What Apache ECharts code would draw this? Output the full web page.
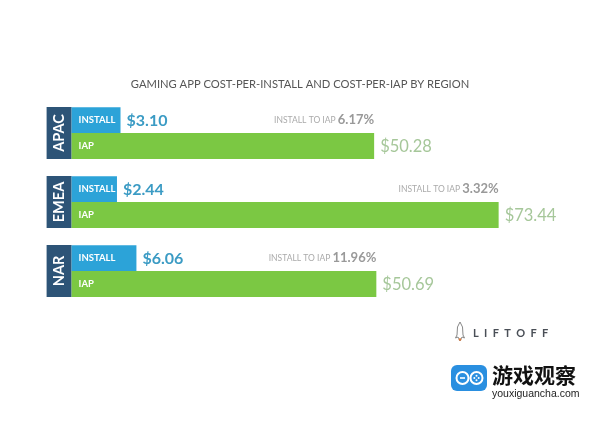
<!DOCTYPE html>
<html><head><meta charset="utf-8">
<script src="https://cdn.jsdelivr.net/npm/echarts@6/dist/echarts.min.js"></script>
<style>html,body{margin:0;padding:0;background:#fff}#c{width:600px;height:424px}</style>
</head><body><div id="c"></div>
<script>
const regions = ['APAC', 'EMEA', 'NAR'];
const installCost = [3.10, 2.44, 6.06];
const iapCost = [50.28, 73.44, 50.69];
const installToIap = [6.17, 3.32, 11.96];

const X_MIN = -6, X_MAX = 80;
const FONT = 'Lato, "Open Sans", sans-serif';

const chart = echarts.init(document.getElementById('c'), null, {renderer: 'canvas'});

function rowGeom(api, v, c) {
  const end = api.coord([v, c]);
  const start = api.coord([X_MIN, c]);
  const band = api.size([0, 1])[1];
  const h = band * 0.375;
  return {x0: start[0], x1: end[0], cy: end[1], h: h};
}

const option = {
  backgroundColor: '#ffffff',
  animation: false,
  title: {
    text: 'GAMING APP COST-PER-INSTALL AND COST-PER-IAP BY REGION',
    left: 'center', top: 74,
    textStyle: {fontFamily: FONT, fontSize: 11.2, fontWeight: 'normal', color: '#555'}
  },
  grid: {left: 71.6, right: 66.1, top: 98.5, bottom: 118.5},
  xAxis: {type: 'value', min: X_MIN, max: X_MAX, show: false},
  yAxis: {
    type: 'category', data: regions, inverse: true,
    axisLine: {show: false}, axisTick: {show: false}, splitLine: {show: false},
    axisLabel: {
      rotate: 90, margin: 0, color: '#fff', fontFamily: FONT, fontWeight: 'bold', fontSize: 14.5,
      backgroundColor: '#2d5477', width: 52, height: 25, lineHeight: 25, align: 'center'
    }
  },
  series: [
    {
      type: 'custom', name: 'Install',
      data: regions.map((r, i) => [installCost[i], i]),
      encode: {x: 0, y: 1},
      renderItem: function (params, api) {
        const g = rowGeom(api, api.value(0), api.value(1));
        const top = g.cy - g.h;
        return {type: 'group', children: [
          {type: 'rect', shape: {x: g.x0, y: top, width: g.x1 - g.x0, height: g.h}, style: {fill: '#2ca3d8'}},
          {type: 'text', style: {x: g.x0 + 7, y: top + g.h / 2, text: 'INSTALL', fill: '#fff',
            font: 'bold 9.5px ' + FONT, verticalAlign: 'middle', align: 'left'}},
          {type: 'text', style: {x: g.x1 + 6, y: top + g.h / 2 + 1, text: '$' + installCost[params.dataIndex].toFixed(2),
            fill: '#3b9bc4', font: 'bold 16px ' + FONT, verticalAlign: 'middle', align: 'left'}}
        ]};
      }
    },
    {
      type: 'custom', name: 'IAP',
      data: regions.map((r, i) => [iapCost[i], i]),
      encode: {x: 0, y: 1},
      renderItem: function (params, api) {
        const g = rowGeom(api, api.value(0), api.value(1));
        const top = g.cy;
        const i = params.dataIndex;
        return {type: 'group', children: [
          {type: 'rect', shape: {x: g.x0, y: top, width: g.x1 - g.x0, height: g.h}, style: {fill: '#7bc843'}},
          {type: 'text', style: {x: g.x0 + 7, y: top + g.h / 2, text: 'IAP', fill: '#fff',
            font: 'bold 9.5px ' + FONT, verticalAlign: 'middle', align: 'left'}},
          {type: 'text', style: {x: g.x1 + 6, y: top + g.h / 2 + 1, text: '$' + iapCost[i].toFixed(2),
            fill: '#a6c79a', font: '16.5px ' + FONT, verticalAlign: 'middle', align: 'left'}},
          {type: 'text', style: {x: g.x1, y: g.cy - g.h / 2, text: '{a|INSTALL TO IAP }{b|' + installToIap[i].toFixed(2) + '%}',
            align: 'right', verticalAlign: 'middle',
            rich: {
              a: {fontSize: 8.5, fontFamily: FONT, fill: '#aaa'},
              b: {fontSize: 13, fontFamily: FONT, fontWeight: 'bold', fill: '#999'}
            }}}
        ]};
      }
    }
  ],
  graphic: [
    {type: 'polygon', shape: {points: [[460,322],[462.5,327],[463,335],[464.5,338],[462,337],[460,341],[458,337],[455.5,338],[457,335],[457.5,327]]},
      style: {fill: 'none', stroke: '#888', lineWidth: 1}},
    {type: 'circle', shape: {cx: 460, cy: 339.5, r: 1.3}, style: {fill: '#e07a3a'}},
    {type: 'text', style: {x: 473, y: 333, text: 'L  I  F  T  O  F  F', fill: '#4a4f57',
      font: 'bold 11px ' + FONT, verticalAlign: 'middle'}},
    {type: 'rect', shape: {x: 451, y: 365, width: 36, height: 26, r: 6}, style: {fill: '#2a8fe0'}},
    {type: 'circle', shape: {cx: 462.5, cy: 378, r: 6}, style: {fill: '#2a8fe0', stroke: '#fff', lineWidth: 2}},
    {type: 'circle', shape: {cx: 476.5, cy: 378, r: 6}, style: {fill: '#2a8fe0', stroke: '#fff', lineWidth: 2}},
    {type: 'rect', shape: {x: 460, y: 377.2, width: 5, height: 1.6}, style: {fill: '#fff'}},
    {type: 'circle', shape: {cx: 476.5, cy: 375.8, r: 1}, style: {fill: '#fff'}},
    {type: 'circle', shape: {cx: 476.5, cy: 380.2, r: 1}, style: {fill: '#fff'}},
    {type: 'circle', shape: {cx: 474.3, cy: 378, r: 1}, style: {fill: '#fff'}},
    {type: 'circle', shape: {cx: 478.7, cy: 378, r: 1}, style: {fill: '#fff'}},
    {type: 'text', style: {x: 492, y: 375, text: '游戏观察', fill: '#111',
      font: 'bold 21px "Noto Sans CJK SC"', verticalAlign: 'middle'}},
    {type: 'text', style: {x: 492, y: 394, text: 'youxiguancha.com', fill: '#222',
      font: '10.5px "Liberation Sans", sans-serif', verticalAlign: 'middle'}}
  ]
};
chart.setOption(option);
</script>
</body></html>
